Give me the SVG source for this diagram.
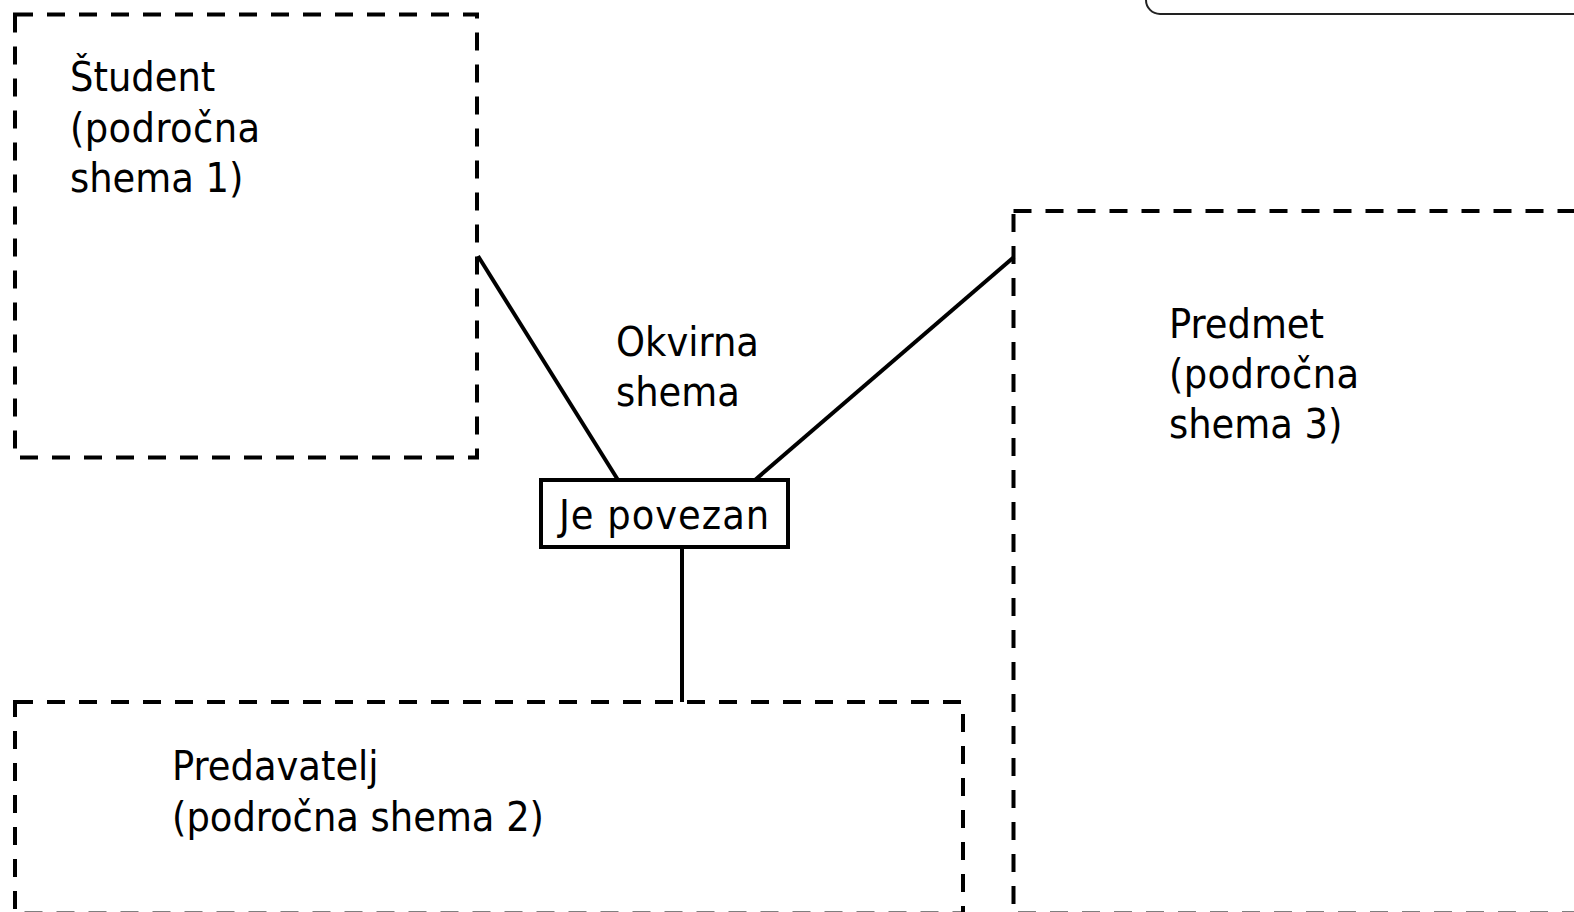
<svg xmlns="http://www.w3.org/2000/svg" width="1574" height="912" viewBox="0 0 1574 912">
<style>
.dash{fill:none;stroke:#000;stroke-width:4;stroke-dasharray:18 14}
.solid{fill:none;stroke:#000;stroke-width:4}
.t{font-family:"DejaVu Sans Condensed","DejaVu Sans",sans-serif;font-size:41px;fill:#000}
</style>
<rect x="0" y="0" width="1574" height="912" fill="#fff"/>
<g id="frame-top-right">
<rect x="1146" y="-60" width="500" height="74" rx="14" fill="none" stroke="#222" stroke-width="2"/>
</g>
<g id="student">
<rect class="dash" x="15" y="14.5" width="462" height="443"/>
<text class="t" x="70" y="91">Študent</text>
<text class="t" x="70" y="142" letter-spacing="0.4">(področna</text>
<text class="t" x="70" y="192">shema 1)</text>
</g>
<g id="predmet">
<rect class="dash" x="1013.5" y="211" width="620" height="702.5"/>
<text class="t" x="1169" y="338">Predmet</text>
<text class="t" x="1169" y="388" letter-spacing="0.4">(področna</text>
<text class="t" x="1169" y="438">shema 3)</text>
</g>
<g id="predavatelj">
<rect class="dash" x="15" y="702" width="948" height="211.5"/>
<text class="t" x="172" y="780">Predavatelj</text>
<text class="t" x="172" y="831">(področna shema 2)</text>
</g>
<g id="okvirna">
<text class="t" x="616" y="356">Okvirna</text>
<text class="t" x="616" y="406">shema</text>
</g>
<g id="connectors">
<line class="solid" x1="478" y1="256" x2="618" y2="480"/>
<line class="solid" x1="1014" y1="257" x2="755" y2="480"/>
<line class="solid" x1="682" y1="549" x2="682" y2="702"/>
</g>
<g id="je-povezan">
<rect x="541" y="480" width="247" height="67" fill="#fff" stroke="#000" stroke-width="4"/>
<text class="t" x="559" y="529" letter-spacing="1">Je povezan</text>
</g>
</svg>
